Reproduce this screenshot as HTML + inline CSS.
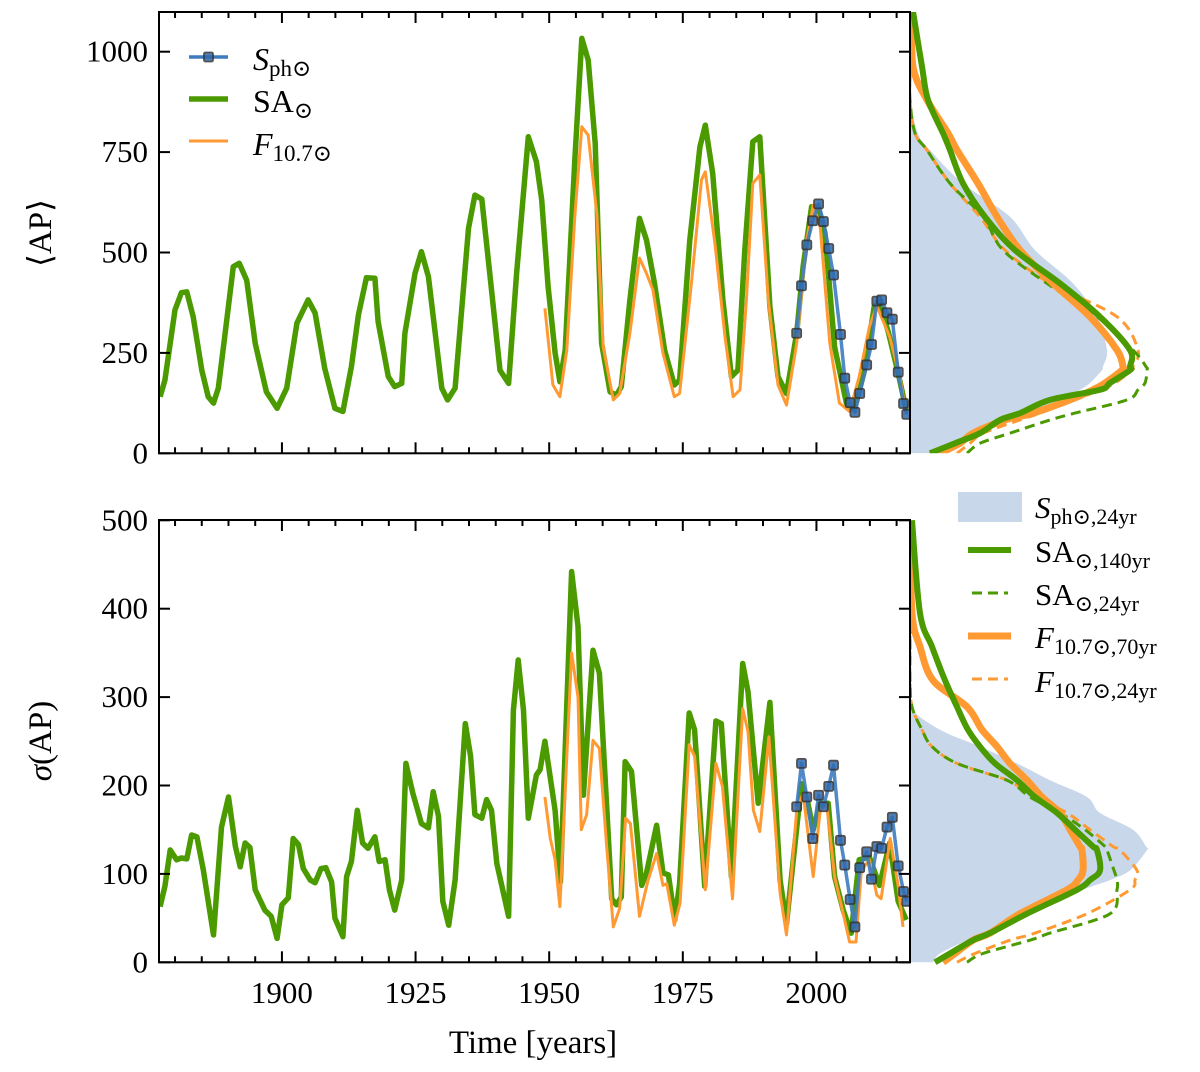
<!DOCTYPE html>
<html><head><meta charset="utf-8">
<style>
html,body{margin:0;padding:0;background:#fff;}
body{position:relative;width:1200px;height:1072px;overflow:hidden;}
svg{display:block;}
text{font-family:"Liberation Serif","DejaVu Serif",serif;fill:#000;}
</style></head>
<body>
<svg id="chart" width="1200" height="1072" viewBox="0 0 1200 1072" xmlns="http://www.w3.org/2000/svg">
<defs>
<clipPath id="clipTop"><rect x="159" y="12" width="751" height="441.3"/></clipPath>
<clipPath id="clipBot"><rect x="159" y="520" width="751" height="442.3"/></clipPath>
<clipPath id="clipSideTop"><rect x="910" y="12" width="290" height="441.3"/></clipPath>
<clipPath id="clipSideBot"><rect x="910" y="520" width="290" height="445"/></clipPath>
</defs>
<g id="layer"></g>
</svg>
<script>
// ---------- data ----------
const saTopYears = [1877.2,1878.1,1880,1881.2,1882.2,1883.4,1885,1886.2,1887.2,1888.1,1889.3,1890.9,1892,1893.4,1895,1897.1,1899.1,1900.9,1902.8,1904.9,1906.2,1908,1909.9,1911.4,1913,1914.3,1915.8,1917.4,1918,1919.9,1921.1,1922.4,1923,1924.9,1926.1,1927.4,1929.9,1931,1932.4,1934.9,1936.1,1937.4,1939.2,1940.8,1942.4,1943.9,1946.1,1947.6,1948.6,1949.8,1951.1,1952,1953,1954.8,1956.1,1957.3,1958.6,1959.8,1961.4,1962.6,1963.5,1965.1,1966.9,1968.2,1969.7,1971.6,1973.4,1974.4,1976.3,1978.2,1979.2,1980.6,1982.5,1984.1,1985.3,1986.6,1988.1,1989.4,1991.3,1992.8,1994.4,1996.3,1997.5,1999.1,2000.3,2001.6,2003.4,2005.6,2007.1,2009,2010.8,2011.8,2013.5,2015.3,2016.8];
const saTopValues = [141,182,357,400,402,340,207,141,125,162,290,465,473,431,274,153,112,162,324,382,349,212,112,104,216,344,437,436,328,191,166,174,299,448,502,440,162,133,162,560,643,633,407,207,174,448,788,726,631,415,250,178,257,730,1033,979,772,274,153,145,166,382,585,531,423,257,170,182,531,763,817,697,382,191,207,506,776,788,365,191,149,299,465,614,614,548,265,125,108,207,365,377,299,199,108];
const fTopYears = [1949.2,1950.7,1952,1953.3,1954.8,1956.1,1957.3,1958.9,1960.1,1962,1963.2,1965.1,1966.9,1968.2,1969.4,1971.3,1973.4,1974.4,1976.6,1978.5,1979.2,1981,1982.9,1984.4,1985.7,1986.9,1988.1,1989.4,1991,1992.8,1994.4,1996.3,1998.2,1999.4,2000.7,2002.5,2004.3,2006.2,2008,2009.9,2011.3,2013.7,2015.6,2016.6];
const fTopValues = [361,170,141,257,589,813,792,597,265,133,149,299,486,448,407,249,141,149,423,681,701,523,290,141,158,382,672,693,382,170,120,274,531,618,564,274,125,104,191,315,367,290,191,112];
const sphYears = [1996.3,1997.2,1998.2,1999.3,2000.4,2001.3,2002.3,2003.2,2004.5,2005.3,2006.3,2007.2,2008.1,2009.4,2010.3,2011.3,2012.2,2013.2,2014.2,2015.3,2016.3,2016.9];
const sphTopValues = [299,417,519,579,621,577,510,444,296,187,126,102,149,220,271,379,382,350,334,202,124,97];
const sphBotValues = [176,225,187,140,189,176,199,223,138,110,71,40,107,125,94,131,129,153,164,109,80,69];
const saBotYears = [1877.2,1878.1,1879.1,1880.3,1881.2,1882.2,1883.1,1884.1,1885.3,1887.2,1888.7,1890,1891.3,1892.2,1893.1,1894,1895,1896.8,1898,1899.1,1900,1901.2,1902.1,1903.1,1904,1905.3,1906.2,1907.3,1908.2,1909.3,1909.9,1911.4,1912.1,1913,1914.1,1915.1,1916.1,1917.4,1918.2,1919.3,1920.1,1921.1,1922.4,1923.2,1924.5,1926.1,1927.4,1928.3,1929.3,1930.1,1931.2,1932.4,1934.3,1935.3,1936.1,1937.4,1938.3,1939.2,1940.2,1942.4,1943.3,1944.2,1945.2,1946.1,1947.6,1948.3,1949.2,1951.1,1952.1,1954.2,1955.4,1956.4,1958.2,1959.4,1961.7,1962.6,1963.5,1964.2,1965.4,1967.3,1968.2,1970.1,1971.3,1972.3,1973.5,1974.4,1976.2,1977.2,1979.1,1981.2,1982.2,1984.1,1986.2,1987.2,1989.1,1991.3,1993.2,1994.4,1996,1997.2,1998.4,1999.4,2000.7,2002.2,2003.4,2005,2006.5,2008,2009.9,2011.8,2013.7,2015.3,2016.8];
const saBotValues = [63,86,127,116,118,117,144,142,104,31,153,187,131,108,135,130,82,59,52,27,65,73,140,133,106,93,90,106,107,91,50,29,97,114,172,135,129,142,114,116,82,59,93,225,191,157,152,193,165,69,42,93,270,233,167,163,184,172,112,52,285,342,285,163,212,218,250,172,91,442,380,189,353,327,72,65,74,227,216,87,101,155,101,99,48,89,282,263,86,273,270,97,338,306,180,294,93,44,135,202,180,150,180,180,97,59,33,116,119,87,135,69,48];
const fBotYears = [1949.2,1950.2,1951.1,1952,1954.2,1955.4,1956,1957,1958.2,1959.4,1960.7,1962,1963.2,1964.3,1965.2,1966.9,1968.5,1970.1,1971.3,1972,1973.4,1974.5,1976.2,1977.2,1979.2,1981.2,1982.4,1984.3,1986.2,1987.2,1988.2,1989.4,1991.1,1993.2,1994.4,1996.3,1997.5,1999.4,2000.7,2001.9,2003.4,2004.7,2006.2,2007.4,2008.4,2009.9,2011.3,2012.1,2013.8,2015.3,2016.2];
const fBotValues = [187,140,116,63,350,300,150,167,251,242,135,40,61,163,157,52,93,123,87,89,42,67,246,233,82,225,199,72,287,261,172,148,255,78,31,172,191,97,172,180,97,63,23,23,104,116,76,72,140,86,40];
// density (side panels): value levels and density widths
const dTopLevels = [0,25,50,83,100,133,158,175,207,216,257,340,423,506,589,672,755,797,880,963,1100];
const dTopSph   = [23,40,62,90,115,150,170,180,192,193,197,187,163,125,100,53,20,8,0,0,0];
const dTopSA140 = [20,45,70,90,110,140,190,200,220,220,220,190,150,105,75,53,40,33,18,12,3];
const dTopSA24  = [57,70,100,140,165,217,228,235,237,236,223,187,137,93,73,40,17,5,0,0,0];
const dTopF70   = [30,50,63,95,123,160,183,195,212,213,207,180,143,110,87,68,47,38,17,3,2];
const dTopF24   = [47,60,73,110,130,165,190,205,222,223,228,207,140,95,70,40,17,5,0,0,0];
const dBotLevels = [0,10,25,33,55,82,93,104,127,131,150,169,187,206,225,244,263,289,319,357,395,500];
const dBotSph   = [23,30,57,75,117,173,200,220,237,236,223,190,177,140,107,70,30,0,0,0,0,0];
const dBotSA140 = [25,40,63,80,117,167,180,190,187,183,165,147,125,107,85,70,58,47,35,22,10,2];
const dBotSA24  = [57,73,120,140,200,207,207,204,197,195,175,150,120,97,47,22,12,2,0,0,0,0];
const dBotF70   = [33,45,63,80,110,157,168,173,172,170,160,150,132,117,100,87,72,57,23,10,2,0];
const dBotF24   = [47,65,100,125,177,220,225,227,210,203,180,157,125,97,47,22,12,2,0,0,0,0];
const xTicks = [1900,1925,1950,1975,2000];
const topYTicks = [0,250,500,750,1000];
const botYTicks = [0,100,200,300,400,500];

// ---------- scales ----------
const X = y => 159 + (y - 1877) * 5.345;
const YT = v => 453.3 - v * 0.4016;
const YB = v => 962.3 - v * 0.884;
const DX = d => 910 + d;

const NS = 'http://www.w3.org/2000/svg';
const layer = document.getElementById('layer');
function mk(tag, attrs, parent) {
  const el = document.createElementNS(NS, tag);
  for (const k in attrs) el.setAttribute(k, attrs[k]);
  (parent || layer).appendChild(el);
  return el;
}
function pathD(xs, ys) { return xs.map((x, i) => (i ? 'L' : 'M') + x.toFixed(1) + ',' + ys[i].toFixed(1)).join(''); }
function smoothD(xs, ys) {
  let d = 'M' + xs[0].toFixed(1) + ',' + ys[0].toFixed(1);
  const n = xs.length;
  for (let i = 0; i < n - 1; i++) {
    const x0 = xs[Math.max(i - 1, 0)], y0 = ys[Math.max(i - 1, 0)];
    const x1 = xs[i], y1 = ys[i], x2 = xs[i + 1], y2 = ys[i + 1];
    const x3 = xs[Math.min(i + 2, n - 1)], y3 = ys[Math.min(i + 2, n - 1)];
    const c1x = x1 + (x2 - x0) / 6, c1y = y1 + (y2 - y0) / 6;
    const c2x = x2 - (x3 - x1) / 6, c2y = y2 - (y3 - y1) / 6;
    d += 'C' + c1x.toFixed(1) + ',' + c1y.toFixed(1) + ' ' + c2x.toFixed(1) + ',' + c2y.toFixed(1) + ' ' + x2.toFixed(1) + ',' + y2.toFixed(1);
  }
  return d;
}

const GREEN = '#4a9a00', ORANGE = '#ff9a33', BLUE = '#3e7cc0', FILL = '#c8d8ea';

// ---------- side density panels ----------
function side(levels, sets, Y, clip, namePrefix) {
  const g = mk('g', {'clip-path': 'url(#' + clip + ')'});
  
  
  const ys = levels.map(Y);
  let d = smoothD(sets.sph.map(DX), ys);
  d += 'L' + DX(0) + ',' + Y(levels[levels.length - 1]) + 'L' + DX(0) + ',' + Y(levels[0]) + 'Z';
  const f = mk('path', {d: d, fill: FILL, stroke: 'none'}, g);
  
  
  const c1 = mk('path', {d: smoothD(sets.f24.map(DX), ys), fill: 'none', stroke: ORANGE, 'stroke-width': 3, 'stroke-dasharray': '10,6'}, g);
  
  
  const c2 = mk('path', {d: smoothD(sets.sa24.map(DX), ys), fill: 'none', stroke: GREEN, 'stroke-width': 3, 'stroke-dasharray': '10,6'}, g);
  
  
  const c3 = mk('path', {d: smoothD(sets.f70.map(DX), ys), fill: 'none', stroke: ORANGE, 'stroke-width': 7, 'stroke-linejoin': 'round'}, g);
  
  
  const c4 = mk('path', {d: smoothD(sets.sa140.map(DX), ys), fill: 'none', stroke: GREEN, 'stroke-width': 6, 'stroke-linejoin': 'round'}, g);
  
  
}
side(dTopLevels, {sph: dTopSph, sa140: dTopSA140, sa24: dTopSA24, f70: dTopF70, f24: dTopF24}, YT, 'clipSideTop', 'top');
side(dBotLevels, {sph: dBotSph, sa140: dBotSA140, sa24: dBotSA24, f70: dBotF70, f24: dBotF24}, YB, 'clipSideBot', 'bottom');

// ---------- main panels ----------
function series(years, vals, Y, clip, color, w, name) {
  const p = mk('path', {d: pathD(years.map(X), vals.map(Y)), fill: 'none', stroke: color, 'stroke-width': w, 'stroke-linejoin': 'round', 'clip-path': 'url(#' + clip + ')'});
  
  
}
function sphSeries(vals, Y, clip, name) {
  const g = mk('g', {'clip-path': 'url(#' + clip + ')'});
  
  
  mk('path', {d: pathD(sphYears.map(X), vals.map(Y)), fill: 'none', stroke: BLUE, 'stroke-width': 3.5, 'stroke-linejoin': 'round', opacity: 0.9}, g);
  sphYears.forEach((yr, i) => {
    const r = mk('rect', {x: X(yr) - 4.5, y: Y(vals[i]) - 4.5, width: 9, height: 9, rx: 1.5, fill: '#2f6ab0', stroke: '#333', 'stroke-width': 1.8, opacity: 0.85}, g);
    
    
  });
}
series(saTopYears, saTopValues, YT, 'clipTop', GREEN, 5.5, 'sa-top-line');
series(fTopYears, fTopValues, YT, 'clipTop', ORANGE, 3, 'f107-top-line');
sphSeries(sphTopValues, YT, 'clipTop', 'sph-top-line');
series(saBotYears, saBotValues, YB, 'clipBot', GREEN, 5.5, 'sa-bottom-line');
series(fBotYears, fBotValues, YB, 'clipBot', ORANGE, 3, 'f107-bottom-line');
sphSeries(sphBotValues, YB, 'clipBot', 'sph-bottom-line');

// ---------- axes ----------
function axes(top, bottom, Y, yticks, labelX, name) {
  const g = mk('g', {});
  
  
  mk('rect', {x: 159, y: top, width: 751, height: bottom - top, fill: 'none', stroke: '#000', 'stroke-width': 2}, g);
  for (let yr = 1880; yr <= 2015; yr += 5) {
    const major = yr % 25 === 0;
    const L = major ? 11 : 6;
    mk('line', {x1: X(yr), x2: X(yr), y1: bottom, y2: bottom - L, stroke: '#000', 'stroke-width': 2}, g);
    mk('line', {x1: X(yr), x2: X(yr), y1: top, y2: top + L, stroke: '#000', 'stroke-width': 2}, g);
  }
  yticks.forEach(v => {
    const y = Y(v);
    mk('line', {x1: 159, x2: 170, y1: y, y2: y, stroke: '#000', 'stroke-width': 2}, g);
    mk('line', {x1: 910, x2: 899, y1: y, y2: y, stroke: '#000', 'stroke-width': 2}, g);
    const t = mk('text', {x: 148, y: y + 10, 'text-anchor': 'end', 'font-size': 31}, g);
    t.textContent = v;
    
    
  });
  if (labelX) xTicks.forEach(yr => {
    const t = mk('text', {x: X(yr), y: 1003, 'text-anchor': 'middle', 'font-size': 31}, g);
    t.textContent = yr;
    
    
  });
}
axes(12, 453.3, YT, topYTicks, false, 'top-axes');
axes(520, 962.3, YB, botYTicks, true, 'bottom-axes');
</script>

<svg style="position:absolute;left:0;top:0" width="1200" height="1072">
<text transform="translate(51,233) rotate(-90)" text-anchor="middle" font-size="33">⟨AP⟩</text>
<text transform="translate(51,741) rotate(-90)" text-anchor="middle" font-size="33"><tspan font-style="italic">σ</tspan>(AP)</text>
<text x="533" y="1053" text-anchor="middle" font-size="33">Time [years]</text>

<g>
  <g>
    <line x1="189" x2="228" y1="57" y2="57" stroke="#3e7cc0" stroke-width="3.5"/>
    <rect x="204" y="52.5" width="9" height="9" rx="1.5" fill="#2f6ab0" stroke="#333" stroke-width="1.8" opacity="0.85"/>
    <text x="253" y="70" font-size="32"><tspan font-style="italic">S</tspan><tspan font-size="23" dy="6">ph⊙</tspan></text>
  </g>
  <g>
    <line x1="189" x2="228" y1="99" y2="99" stroke="#4a9a00" stroke-width="5.5"/>
    <text x="253" y="112" font-size="32">SA<tspan font-size="23" dy="6">⊙</tspan></text>
  </g>
  <g>
    <line x1="189" x2="228" y1="141" y2="141" stroke="#ff9a33" stroke-width="3"/>
    <text x="253" y="155" font-size="32"><tspan font-style="italic">F</tspan><tspan font-size="23" dy="6">10.7⊙</tspan></text>
  </g>
</g>

<g>
  <g>
    <rect x="958" y="492" width="64" height="30" fill="#c8d8ea"/>
    <text x="1035" y="518" font-size="31"><tspan font-style="italic">S</tspan><tspan font-size="22" dy="6">ph⊙,24yr</tspan></text>
  </g>
  <g>
    <line x1="968" x2="1011" y1="550" y2="550" stroke="#4a9a00" stroke-width="6"/>
    <text x="1035" y="562" font-size="31">SA<tspan font-size="22" dy="6">⊙,140yr</tspan></text>
  </g>
  <g>
    <line x1="972" x2="1008" y1="593" y2="593" stroke="#4a9a00" stroke-width="3" stroke-dasharray="10,6"/>
    <text x="1035" y="605" font-size="31">SA<tspan font-size="22" dy="6">⊙,24yr</tspan></text>
  </g>
  <g>
    <line x1="968" x2="1011" y1="636" y2="636" stroke="#ff9a33" stroke-width="7"/>
    <text x="1035" y="648" font-size="31"><tspan font-style="italic">F</tspan><tspan font-size="22" dy="6">10.7⊙,70yr</tspan></text>
  </g>
  <g>
    <line x1="972" x2="1008" y1="679" y2="679" stroke="#ff9a33" stroke-width="3" stroke-dasharray="10,6"/>
    <text x="1035" y="692" font-size="31"><tspan font-style="italic">F</tspan><tspan font-size="22" dy="6">10.7⊙,24yr</tspan></text>
  </g>
</g>
</svg>
</body></html>
